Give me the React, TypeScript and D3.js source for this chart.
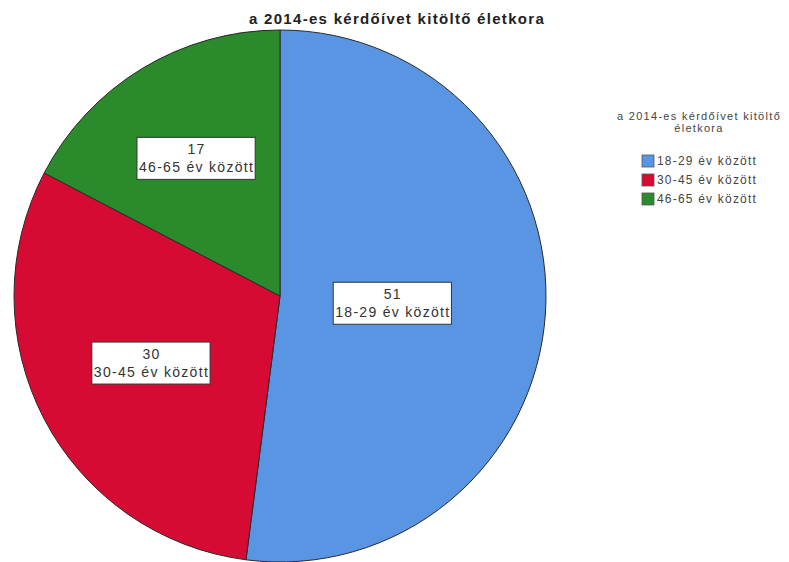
import React, { useEffect, useRef } from 'react';
import * as d3 from 'd3';

const TITLE = 'a 2014-es kérdőívet kitöltő életkora';
const LEGEND_TITLE = ['a 2014-es kérdőívet kitöltő', 'életkora'];
const categories = ['18-29 év között', '30-45 év között', '46-65 év között'];
const counts = [51, 30, 17];
const colors = ['#5995e3', '#d50b34', '#2b8a2b'];
const labelRadiusFraction = [0.425, 0.545, 0.605];

const W = 789;
const H = 562;
const FONT = 'Arial, "Liberation Sans", sans-serif';

export default function App() {
  const ref = useRef<SVGSVGElement>(null);
  useEffect(() => {
    const svg = d3.select(ref.current as SVGSVGElement);
    svg.selectAll('*').remove();
    svg.append('rect').attr('width', W).attr('height', H).attr('fill', '#fff');

    const cx = 280, cy = 296, r = 266;
    const data = categories.map((c, i) => ({ c, v: counts[i], color: colors[i], lr: labelRadiusFraction[i] }));
    const pie = d3.pie<any>().value((d: any) => d.v).sort(null);
    const arcs = pie(data);
    const arc = d3.arc<any>().innerRadius(0).outerRadius(r);

    const g = svg.append('g').attr('transform', `translate(${cx},${cy})`);
    g.selectAll('path').data(arcs).join('path')
      .attr('d', arc as any)
      .attr('fill', (d: any) => d.data.color)
      .attr('stroke', '#2a2a2a')
      .attr('stroke-width', 1);

    const lg = svg.append('g').attr('transform', `translate(${cx},${cy})`);
    arcs.forEach((a: any) => {
      const mid = (a.startAngle + a.endAngle) / 2;
      const x = Math.sin(mid) * r * a.data.lr;
      const y = -Math.cos(mid) * r * a.data.lr;
      const grp = lg.append('g').attr('transform', `translate(${x},${y})`);
      const rect = grp.append('rect').attr('fill', '#fff').attr('stroke', '#333').attr('stroke-width', 1);
      const t = grp.append('text')
        .attr('text-anchor', 'middle')
        .attr('font-family', FONT)
        .attr('font-size', 14)
        .attr('letter-spacing', 1.3)
        .attr('fill', '#333');
      t.append('tspan').attr('x', 0).attr('y', -4).text(String(a.data.v));
      t.append('tspan').attr('x', 0).attr('y', 14).text(a.data.c);
      const bb = (t.node() as SVGTextElement).getBBox();
      rect.attr('x', bb.x - 2).attr('y', -21).attr('width', bb.width + 3).attr('height', 42);
    });

    svg.append('text')
      .attr('x', 397).attr('y', 24)
      .attr('text-anchor', 'middle')
      .attr('font-family', FONT)
      .attr('font-weight', 'bold')
      .attr('font-size', 15)
      .attr('letter-spacing', 1.3)
      .attr('fill', '#222')
      .text(TITLE);

    const leg = svg.append('g');
    LEGEND_TITLE.forEach((line, i) => {
      leg.append('text')
        .attr('x', 699).attr('y', 120 + i * 12)
        .attr('text-anchor', 'middle')
        .attr('font-family', FONT)
        .attr('font-size', 11)
        .attr('letter-spacing', 1.3)
        .attr('fill', '#444')
        .text(line);
    });
    categories.forEach((c, i) => {
      const yc = 161 + i * 19;
      leg.append('rect')
        .attr('x', 642).attr('y', yc - 6).attr('width', 12).attr('height', 12)
        .attr('fill', colors[i]).attr('stroke', '#555').attr('stroke-width', 0.8);
      leg.append('text')
        .attr('x', 657).attr('y', yc + 4)
        .attr('font-family', FONT)
        .attr('font-size', 12)
        .attr('letter-spacing', 1.2)
        .attr('fill', '#444')
        .text(c);
    });
  }, []);

  return (
    <svg ref={ref} width={W} height={H} style={{ position: 'absolute', left: 0, top: 0, display: 'block' }} />
  );
}
